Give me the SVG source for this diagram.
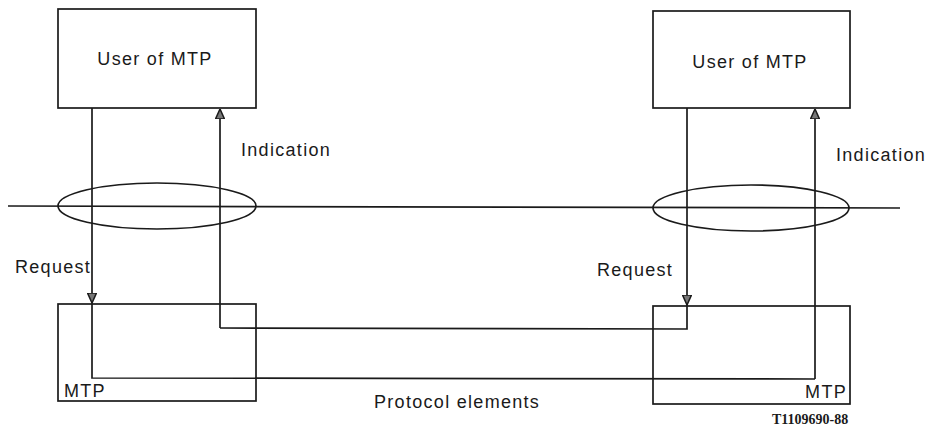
<svg xmlns="http://www.w3.org/2000/svg" width="933" height="429" viewBox="0 0 933 429">
<style>
.box{fill:none;stroke:#1a1a1a;stroke-width:1.7}
.ln{fill:none;stroke:#1a1a1a;stroke-width:1.7}
.t{font-family:"Liberation Sans",Arial,sans-serif;font-size:18px;fill:#1a1a1a;letter-spacing:1.3px}
.code{font-family:"Liberation Serif","Times New Roman",serif;font-size:14px;font-weight:bold;fill:#1a1a1a}
</style>
<defs>
<marker id="ah" viewBox="0 0 10 10" refX="10" refY="5" markerWidth="10" markerHeight="10" markerUnits="userSpaceOnUse" orient="auto">
<path d="M0,0.5 L10,5 L0,9.5 Z" fill="#777" stroke="#1a1a1a" stroke-width="1.5"/>
</marker>
</defs>
<rect width="933" height="429" fill="#fff"/>
<g id="boundary">
<line class="ln" x1="8" y1="206" x2="900" y2="208"/>
<ellipse class="ln" cx="157" cy="206" rx="99" ry="23"/>
<ellipse class="ln" cx="751" cy="208" rx="98" ry="23"/>
</g>
<g id="user-left">
<rect class="box" x="58" y="9" width="198" height="99"/>
<text class="t" x="155" y="65" text-anchor="middle">User of MTP</text>
</g>
<g id="user-right">
<rect class="box" x="653" y="11" width="197" height="97"/>
<text class="t" x="750" y="68" text-anchor="middle">User of MTP</text>
</g>
<g id="mtp-left">
<rect class="box" x="58" y="304" width="198" height="97"/>
<text class="t" x="64" y="397">MTP</text>
</g>
<g id="mtp-right">
<rect class="box" x="653" y="306" width="197" height="98"/>
<text class="t" x="847" y="398" text-anchor="end">MTP</text>
</g>
<g id="connectors">
<line class="ln" x1="92" y1="108" x2="92" y2="303" marker-end="url(#ah)"/>
<line class="ln" x1="687" y1="108" x2="687" y2="305" marker-end="url(#ah)"/>
<line class="ln" x1="220" y1="328" x2="220" y2="109" marker-end="url(#ah)"/>
<line class="ln" x1="815" y1="379" x2="815" y2="109" marker-end="url(#ah)"/>
<polyline class="ln" points="92,303 92,378 815,379"/>
<polyline class="ln" points="220,328 687,329 687,305"/>
</g>
<g id="labels">
<text class="t" x="241" y="156">Indication</text>
<text class="t" x="836" y="161">Indication</text>
<text class="t" x="15" y="273">Request</text>
<text class="t" x="597" y="276">Request</text>
<text class="t" x="374" y="408">Protocol elements</text>
<text class="code" x="772" y="424">T1109690-88</text>
</g>
</svg>
